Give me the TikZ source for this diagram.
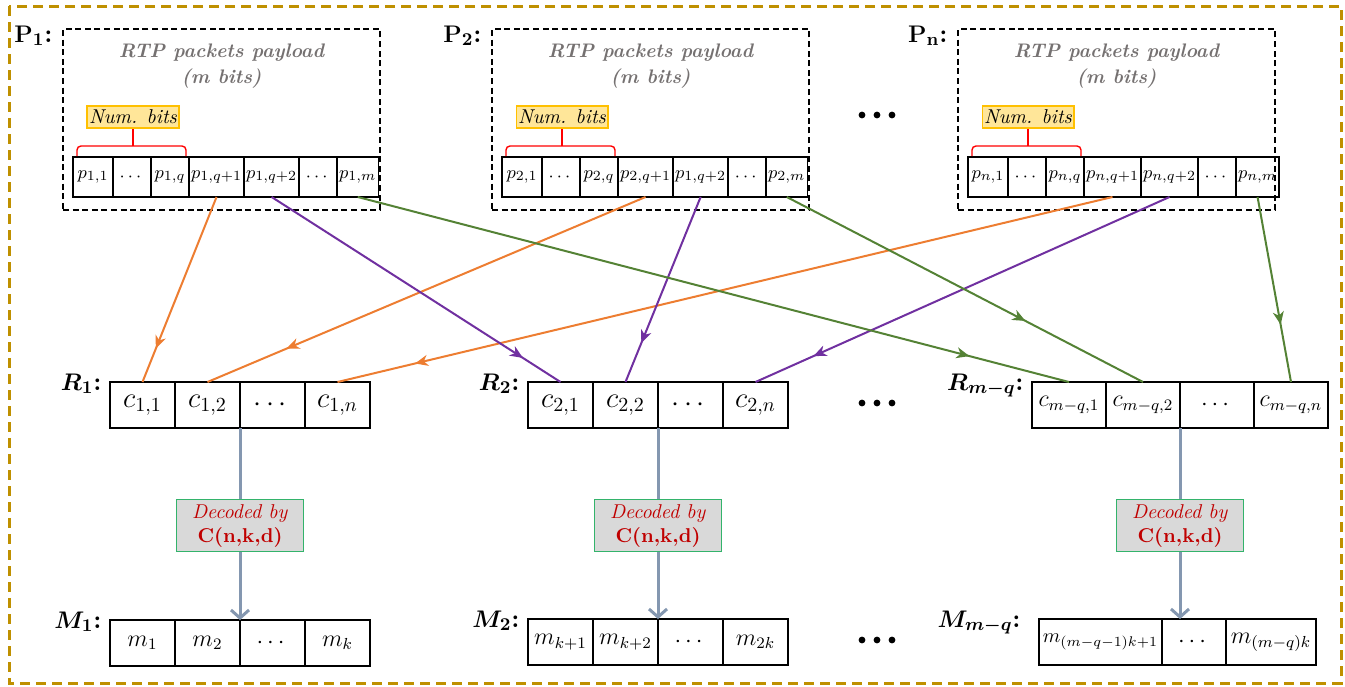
\documentclass[tikz,border=0pt]{standalone}
\usepackage{amsmath}
\usepackage{xcolor}
\usetikzlibrary{arrows.meta, positioning, decorations.markings}

\definecolor{framegold}{HTML}{BF9000}
\definecolor{porange}{HTML}{ED7D31}
\definecolor{ppurple}{HTML}{7030A0}
\definecolor{pgreen}{HTML}{548235}
\definecolor{flowgray}{HTML}{8497B0}
\definecolor{nbfill}{HTML}{FFE699}
\definecolor{nbgold}{HTML}{FFC000}
\definecolor{decfill}{HTML}{D9D9D9}
\definecolor{decgreen}{HTML}{33B36B}
\definecolor{decred}{HTML}{C00000}
\definecolor{titlegray}{HTML}{757171}

% one RTP packet: name, left x, index, label of the (q+2)-th bit
\newcommand{\rtppacket}[4]{%
  \begin{scope}[shift={(#2,0)}]
    \node[pbox] (#1box) at (158.5,119.5) {};
    \node[plabel, anchor=base east] (#1label) at (-10,42) {$\mathbf{P_{#3}}$:};
    \node[ptitle] (#1title) at (158.5,66) {RTP packets payload\\(m bits)};
    \node[pcell, minimum width=20pt, anchor=north west] (#1-1) at (10,157) {$p_{#3,1}$};
    \node[pcell, minimum width=19pt, right=0pt of #1-1] (#1-2) {$\cdots$};
    \node[pcell, minimum width=19pt, right=0pt of #1-2] (#1-3) {$p_{#3,q}$};
    \node[pcell, minimum width=26.5pt, right=0pt of #1-3] (#1-4) {$p_{#3,q+1}$};
    \node[pcell, minimum width=26.5pt, right=0pt of #1-4] (#1-5) {$#4$};
    \node[pcell, minimum width=19pt, right=0pt of #1-5] (#1-6) {$\cdots$};
    \node[pcell, minimum width=19pt, right=0pt of #1-6] (#1-7) {$p_{#3,m}$};
    \node[nbits] (#1nb) at (70,117) {Num. bits};
    \draw[numbrace] (14,156) |- (70,146) -| (123,156);
    \draw[numbrace] (70,146) -- (#1nb.south);
  \end{scope}}

\begin{document}
\begin{tikzpicture}[
    x=0.5pt, y=-0.5pt,
    pbox/.style={draw, dash pattern=on 3pt off 1.8pt, line width=1pt, minimum width=158.5pt, minimum height=90.5pt},
    ptitle/.style={text=titlegray, font=\fontsize{9.8}{13}\selectfont\bfseries\itshape, align=center},
    plabel/.style={font=\fontsize{13}{15}\selectfont\bfseries, inner sep=0pt},
    rlabel/.style={font=\fontsize{13}{15}\selectfont\bfseries\boldmath, inner sep=0pt},
    bitcell/.style={draw, line width=0.7pt, outer sep=0pt, inner sep=1pt},
    pcell/.style={bitcell, minimum height=20pt, font=\fontsize{9.5}{11}\selectfont},
    rcell/.style={bitcell, minimum height=23pt, minimum width=32.5pt, font=\Large},
    qcell/.style={bitcell, minimum height=23pt, minimum width=37pt, font=\large},
    mcell/.style={bitcell, minimum height=23pt, minimum width=32.5pt, font=\large},
    nbits/.style={draw=nbgold, fill=nbfill, line width=0.6pt, minimum width=43pt, minimum height=11pt, inner sep=1pt, font=\itshape},
    numbrace/.style={draw=red, line width=0.7pt, rounded corners=2pt},
    decoder/.style={draw=decgreen, fill=decfill, line width=0.6pt, minimum width=63.5pt, minimum height=26pt, align=center, text=decred, inner sep=1pt},
    flow/.style={line width=1pt, postaction={decorate}, decoration={markings, mark=at position #1 with {\arrow{Stealth[length=6.5pt, width=5.5pt, inset=2pt]}}}},
    decodeline/.style={draw=flowgray, line width=1.5pt},
    decodearrow/.style={decodeline, -{Straight Barb[length=4pt, width=9pt]}}
]
    \useasboundingbox (0,0) rectangle (1345,686);
    \draw[framegold, line width=1.5pt, dash pattern=on 5pt off 3pt] (9,6) rectangle (1341,683);

    % packets
    \rtppacket{a}{63}{1}{p_{1,q+2}}
    \rtppacket{b}{492}{2}{p_{1,q+2}}
    \rtppacket{c}{958}{n}{p_{n,q+2}}

    % received codewords
    \node[rcell, anchor=north west] (r1-1) at (110,382) {$c_{1,1}$};
    \node[rcell, right=0pt of r1-1] (r1-2) {$c_{1,2}$};
    \node[rcell, right=0pt of r1-2] (r1-3) {$\cdots$};
    \node[rcell, right=0pt of r1-3] (r1-4) {$c_{1,n}$};
    \node[rlabel, anchor=base east] (r1label) at ([xshift=-4pt, yshift=-4pt]r1-1.north west) {$R_{1}$:};

    \node[rcell, anchor=north west] (r2-1) at (528,382) {$c_{2,1}$};
    \node[rcell, right=0pt of r2-1] (r2-2) {$c_{2,2}$};
    \node[rcell, right=0pt of r2-2] (r2-3) {$\cdots$};
    \node[rcell, right=0pt of r2-3] (r2-4) {$c_{2,n}$};
    \node[rlabel, anchor=base east] (r2label) at ([xshift=-4pt, yshift=-4pt]r2-1.north west) {$R_{2}$:};

    \node[qcell, anchor=north west] (r3-1) at (1032,382) {$c_{m-q,1}$};
    \node[qcell, right=0pt of r3-1] (r3-2) {$c_{m-q,2}$};
    \node[qcell, right=0pt of r3-2] (r3-3) {$\cdots$};
    \node[qcell, right=0pt of r3-3] (r3-4) {$c_{m-q,n}$};
    \node[rlabel, anchor=base east] (r3label) at ([xshift=-4pt, yshift=-4pt]r3-1.north west) {$R_{m-q}$:};

    % decoders
    \node[decoder, below=35.5pt of r1-2.south east] (d1) {\textit{Decoded by}\\\textbf{C(n,k,d)}};
    \node[decoder, below=35.5pt of r2-2.south east] (d2) {\textit{Decoded by}\\\textbf{C(n,k,d)}};
    \node[decoder, below=35.5pt of r3-2.south east] (d3) {\textit{Decoded by}\\\textbf{C(n,k,d)}};

    % messages
    \node[mcell, anchor=north west] (m1-1) at (110,620) {$m_{1}$};
    \node[mcell, right=0pt of m1-1] (m1-2) {$m_{2}$};
    \node[mcell, right=0pt of m1-2] (m1-3) {$\cdots$};
    \node[mcell, right=0pt of m1-3] (m1-4) {$m_{k}$};
    \node[rlabel, anchor=base east] (m1label) at ([xshift=-4pt, yshift=-4pt]m1-1.north west) {$M_{1}$:};

    \node[mcell, anchor=north west] (m2-1) at (528,619) {$m_{k+1}$};
    \node[mcell, right=0pt of m2-1] (m2-2) {$m_{k+2}$};
    \node[mcell, right=0pt of m2-2] (m2-3) {$\cdots$};
    \node[mcell, right=0pt of m2-3] (m2-4) {$m_{2k}$};
    \node[rlabel, anchor=base east] (m2label) at ([xshift=-4pt, yshift=-4pt]m2-1.north west) {$M_{2}$:};

    \node[mcell, minimum width=61.5pt, font=\normalsize, anchor=north west] (m3-1) at (1039,619) {$m_{(m-q-1)k+1}$};
    \node[mcell, minimum width=32pt, right=0pt of m3-1] (m3-2) {$\cdots$};
    \node[mcell, minimum width=45pt, right=0pt of m3-2] (m3-3) {$m_{(m-q)k}$};
    \node[rlabel, anchor=base east] (m3label) at ([xshift=-9pt, yshift=-4pt]m3-1.north west) {$M_{m-q}$:};

    % ellipses between columns
    \foreach \yy in {115,403,640}
        \foreach \xx in {862,877,892}
            \fill (\xx,\yy) circle (1.7pt);

    % bits to codewords
    \draw[flow=0.82, porange] (a-4.south) -- (r1-1.north);
    \draw[flow=0.82, porange] (b-4.south) -- (r1-2.north);
    \draw[flow=0.9, porange] (c-4.south) -- (r1-4.north);
    \draw[flow=0.87, ppurple] (a-5.south) -- (r2-1.north);
    \draw[flow=0.79, ppurple] (b-5.south) -- (r2-2.north);
    \draw[flow=0.86, ppurple] (c-5.south) -- (r2-4.north);
    \draw[flow=0.86, pgreen] (a-7.south) -- (r3-1.north);
    \draw[flow=0.67, pgreen] (b-7.south) -- (r3-2.north);
    \draw[flow=0.69, pgreen] (c-7.south) -- (r3-4.north);

    % decoding
    \draw[decodeline] (r1-2.south east) -- (d1);
    \draw[decodearrow] (d1) -- (m1-2.north east);
    \draw[decodeline] (r2-2.south east) -- (d2);
    \draw[decodearrow] (d2) -- (m2-2.north east);
    \draw[decodeline] (r3-2.south east) -- (d3);
    \draw[decodearrow] (d3) -- (d3 |- m3-2.north);
\end{tikzpicture}
\end{document}
